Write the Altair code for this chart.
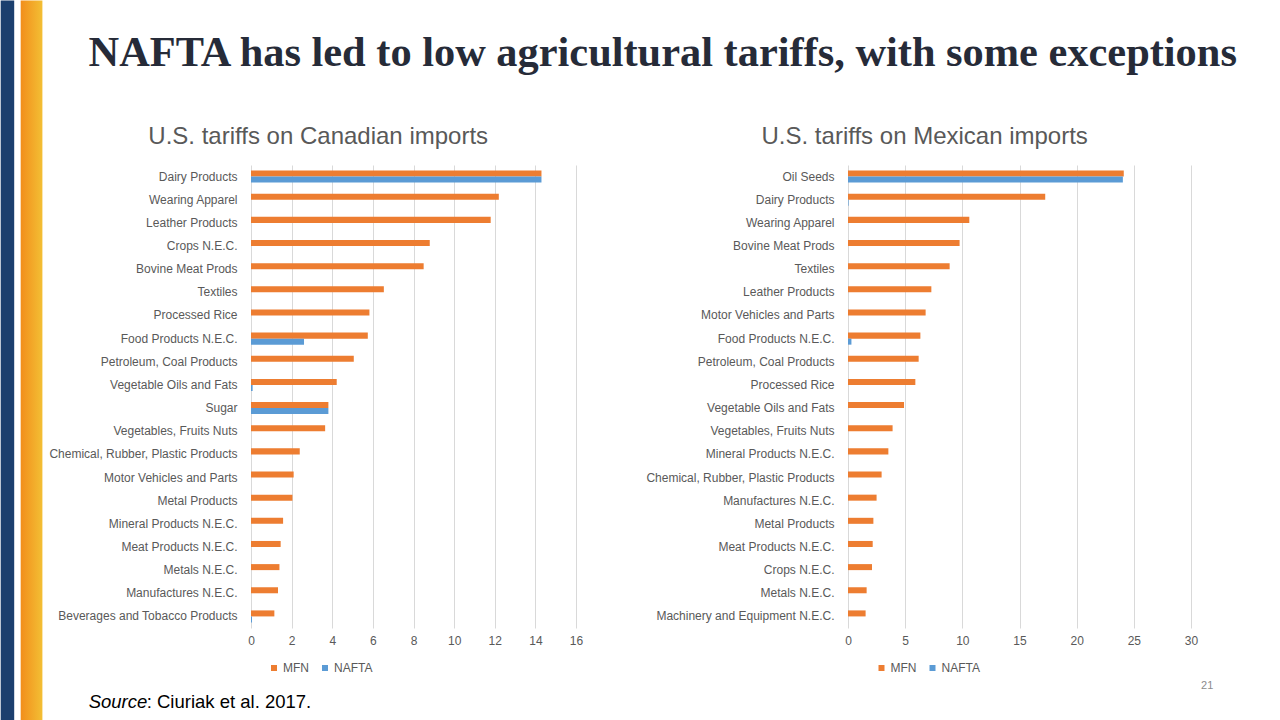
import altair as alt
import pandas as pd

# ---- data ----
can_categories = [
    "Dairy Products", "Wearing Apparel", "Leather Products", "Crops N.E.C.",
    "Bovine Meat Prods", "Textiles", "Processed Rice", "Food Products N.E.C.",
    "Petroleum, Coal Products", "Vegetable Oils and Fats", "Sugar",
    "Vegetables, Fruits Nuts", "Chemical, Rubber, Plastic Products",
    "Motor Vehicles and Parts", "Metal Products", "Mineral Products N.E.C.",
    "Meat Products N.E.C.", "Metals N.E.C.", "Manufactures N.E.C.",
    "Beverages and Tobacco Products",
]
can_mfn = [14.3, 12.2, 11.8, 8.8, 8.5, 6.54, 5.83, 5.75, 5.06, 4.22, 3.81,
           3.65, 2.40, 2.10, 2.04, 1.58, 1.46, 1.40, 1.33, 1.15]
can_nafta = [14.3, 0, 0, 0, 0, 0, 0, 2.61, 0, 0.08, 3.81,
             0, 0, 0, 0, 0, 0, 0, 0, 0.05]

mex_categories = [
    "Oil Seeds", "Dairy Products", "Wearing Apparel", "Bovine Meat Prods",
    "Textiles", "Leather Products", "Motor Vehicles and Parts",
    "Food Products N.E.C.", "Petroleum, Coal Products", "Processed Rice",
    "Vegetable Oils and Fats", "Vegetables, Fruits Nuts",
    "Mineral Products N.E.C.", "Chemical, Rubber, Plastic Products",
    "Manufactures N.E.C.", "Metal Products", "Meat Products N.E.C.",
    "Crops N.E.C.", "Metals N.E.C.", "Machinery and Equipment N.E.C.",
]
mex_mfn = [24.12, 17.25, 10.61, 9.76, 8.89, 7.29, 6.79, 6.33, 6.18, 5.89,
           4.9, 3.9, 3.53, 2.94, 2.50, 2.22, 2.16, 2.10, 1.63, 1.54]
mex_nafta = [24.04, 0.05, 0, 0, 0, 0, 0, 0.3, 0, 0,
             0, 0, 0, 0, 0, 0, 0, 0, 0, 0]

series = ["MFN", "NAFTA"]
series_colors = ["#ED7D31", "#5B9BD5"]
can_ticks = list(range(0, 17, 2))
mex_ticks = list(range(0, 31, 5))

title_text = "NAFTA has led to low agricultural tariffs, with some exceptions"
can_title = "U.S. tariffs on Canadian imports"
mex_title = "U.S. tariffs on Mexican imports"
source_label = "Source"
source_rest = ": Ciuriak et al. 2017."
page_number = "21"


def long_df(cats, mfn, nafta):
    rows = []
    for c, m, n in zip(cats, mfn, nafta):
        rows.append({"category": c, "series": "MFN", "value": m})
        rows.append({"category": c, "series": "NAFTA", "value": n})
    return pd.DataFrame(rows)


GRAY = "#595959"
SANS = "Liberation Sans"
PLOT_H = 463
one = pd.DataFrame({"k": [0]})


def panel(df, cats, xmax, ticks, width, legend_x):
    bars = alt.Chart(df).mark_bar().encode(
        y=alt.Y("category:N", sort=cats, title=None,
                scale=alt.Scale(paddingInner=0.48, paddingOuter=0.24),
                axis=alt.Axis(ticks=False, tickSize=0, domain=False, grid=False,
                              labelFont=SANS, labelFontSize=12, labelColor=GRAY,
                              labelPadding=14, labelLimit=400)),
        yOffset=alt.YOffset("series:N", sort=series),
        x=alt.X("value:Q", title=None,
                scale=alt.Scale(domain=[0, xmax], nice=False, zero=True),
                axis=alt.Axis(values=ticks, grid=True, gridColor="#D9D9D9",
                              gridWidth=1, domain=False, ticks=False, tickSize=0,
                              labelFlush=False,
                              labelFont=SANS, labelFontSize=12, labelColor=GRAY,
                              labelPadding=7)),
        color=alt.Color("series:N", sort=series,
                        scale=alt.Scale(domain=series, range=series_colors),
                        legend=alt.Legend(orient="none", legendX=legend_x,
                                          legendY=497, direction="horizontal",
                                          title=None, symbolType="square",
                                          symbolSize=36, symbolStrokeWidth=0,
                                          labelFont=SANS, labelFontSize=12,
                                          labelColor=GRAY, labelOffset=3,
                                          columnPadding=10, padding=0)),
    ).properties(width=width, height=PLOT_H)
    return bars


can_df = long_df(can_categories, can_mfn, can_nafta)
mex_df = long_df(mex_categories, mex_mfn, mex_nafta)

left_bars = panel(can_df, can_categories, 16, can_ticks, 325, 17)
right_bars = panel(mex_df, mex_categories, 30, mex_ticks, 343, 27.5)

# left-plot-relative offsets: plot origin at (250.3, 164.5) on the page
OX, OY = 250.3, 164.5

navy = alt.Chart(one).mark_rect(color="#1B3F6E").encode(
    x=alt.value(0 - OX), x2=alt.value(13.5 - OX),
    y=alt.value(0 - OY), y2=alt.value(720 - OY))
orange = alt.Chart(one).mark_rect(
    color=alt.Gradient(gradient="linear",
                       stops=[alt.GradientStop(color="#F28E1C", offset=0),
                              alt.GradientStop(color="#F3BF34", offset=1)],
                       x1=0, x2=1, y1=0, y2=0)).encode(
    x=alt.value(20 - OX), x2=alt.value(41.7 - OX),
    y=alt.value(0 - OY), y2=alt.value(720 - OY))
main_title = alt.Chart(one).mark_text(
    text=title_text, font="Liberation Serif", fontSize=42.4, fontWeight="bold",
    color="#262B38", align="center", baseline="alphabetic").encode(
    x=alt.value(662 - OX), y=alt.value(65 - OY))
left_sub = alt.Chart(one).mark_text(
    text=can_title, font=SANS, fontSize=24, color=GRAY,
    align="center", baseline="alphabetic").encode(
    x=alt.value(317.5 - OX), y=alt.value(143 - OY))
src1 = alt.Chart(one).mark_text(
    text=source_label, font=SANS, fontSize=18.5, fontStyle="italic",
    color="#000000", align="left", baseline="alphabetic").encode(
    x=alt.value(88 - OX), y=alt.value(707 - OY))
src2 = alt.Chart(one).mark_text(
    text=source_rest, font=SANS, fontSize=18.5,
    color="#000000", align="left", baseline="alphabetic").encode(
    x=alt.value(146 - OX), y=alt.value(707 - OY))

RX = 847.3
right_sub = alt.Chart(one).mark_text(
    text=mex_title, font=SANS, fontSize=24, color=GRAY,
    align="center", baseline="alphabetic").encode(
    x=alt.value(924 - RX), y=alt.value(143 - OY))
page_num = alt.Chart(one).mark_text(
    text=page_number, font=SANS, fontSize=11, color="#8C8C8C",
    align="center", baseline="middle").encode(
    x=alt.value(1206.5 - RX), y=alt.value(685.5 - OY))

left = alt.layer(left_bars, navy, orange, main_title, left_sub, src1, src2)
right = alt.layer(right_bars, right_sub, page_num)

chart = alt.hconcat(left, right, spacing=847.3 - 575.3, bounds="flush").resolve_legend(
    color="independent").properties(padding=0, background="#FFFFFF").configure_view(
    strokeWidth=0)

chart.save("out.html", embed_options={"renderer": "svg", "actions": False})
